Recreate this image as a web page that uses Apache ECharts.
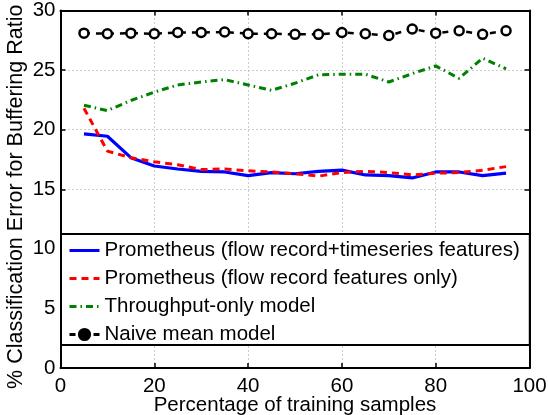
<!DOCTYPE html>
<html>
<head>
<meta charset="utf-8">
<script src="https://cdn.jsdelivr.net/npm/echarts@6/dist/echarts.min.js"></script>
<style>
html,body{margin:0;padding:0;background:#fff;}
#chart{width:548px;height:415px;}
</style>
</head>
<body>
<div id="chart"></div>
<script>
const trainingPct = [5,10,15,20,25,30,35,40,45,50,55,60,65,70,75,80,85,90,95];
const prometheusFull = [19.65,19.45,17.65,16.95,16.7,16.5,16.45,16.15,16.4,16.3,16.5,16.6,16.2,16.15,15.95,16.45,16.45,16.15,16.35];
const prometheusFlow = [21.8,18.2,17.65,17.3,17.05,16.65,16.7,16.55,16.45,16.3,16.1,16.4,16.5,16.4,16.2,16.35,16.4,16.6,16.9];
const throughputOnly = [22.05,21.6,22.45,23.15,23.75,24.0,24.2,23.75,23.3,23.9,24.6,24.65,24.65,24.0,24.7,25.35,24.3,26.0,25.1];
const naiveMean = [28.1,28.05,28.1,28.05,28.15,28.15,28.2,28.05,28.05,28.0,28.0,28.15,28.05,27.9,28.45,28.1,28.3,28.0,28.3];
const seriesNames = [
  'Prometheus (flow record+timeseries features)',
  'Prometheus (flow record features only)',
  'Throughput-only model',
  'Naive mean model'
];
const xTitle = 'Percentage of training samples';
const yTitle = '% Classification Error for Buffering Ratio';

const FONT = "'Liberation Sans', Arial, Helvetica, sans-serif";
const pairs = arr => trainingPct.map((x, i) => [x, arr[i]]);

const chart = echarts.init(document.getElementById('chart'), null, {renderer: 'canvas'});

const baseX = {
  type: 'value', min: 0, max: 100, interval: 20,
  axisLine: {show: true, onZero: false, lineStyle: {color: '#000', width: 2}},
  axisTick: {show: true, inside: true, length: 5, lineStyle: {color: '#000', width: 1.5}},
  splitLine: {show: false}
};
const baseY = {
  type: 'value', min: 0, max: 30, interval: 5,
  axisLine: {show: true, onZero: false, lineStyle: {color: '#000', width: 2}},
  axisTick: {show: true, inside: true, length: 5, lineStyle: {color: '#000', width: 1.5}},
  splitLine: {show: false}
};
const hiddenSymbol = {opacity: 0, color: 'transparent', borderWidth: 0};

chart.setOption({
  animation: false,
  backgroundColor: '#fff',
  grid: {left: 60.5, right: 18.5, top: 10.5, bottom: 47, containLabel: false, outerBoundsMode: 'none'},
  xAxis: [
    Object.assign({}, baseX, {
      position: 'bottom',
      name: xTitle, nameLocation: 'middle', nameGap: 27, nameMoveOverlap: false,
      nameTextStyle: {fontFamily: FONT, fontSize: 20.5, color: '#000'},
      axisLabel: {fontFamily: FONT, fontSize: 20.5, color: '#000', margin: 8},
      splitLine: {show: true, lineStyle: {color: '#999', width: 1, type: [1, 3]}}
    }),
    Object.assign({}, baseX, {position: 'top', axisLabel: {show: false}})
  ],
  yAxis: [
    Object.assign({}, baseY, {
      position: 'left',
      name: yTitle, nameLocation: 'middle', nameGap: 33, nameRotate: 90, nameMoveOverlap: false,
      nameTextStyle: {fontFamily: FONT, fontSize: 21.5, color: '#000', padding: [0, 15, 0, 0]},
      axisLabel: {fontFamily: FONT, fontSize: 20.5, color: '#000', margin: 5},
      splitLine: {show: true, lineStyle: {color: '#999', width: 1, type: [1, 3]}}
    }),
    Object.assign({}, baseY, {position: 'right', axisLabel: {show: false}})
  ],
  legend: {
    orient: 'vertical',
    left: 61, top: 234,
    padding: [6, 10, 0, 7],
    itemWidth: 30, itemHeight: 14, itemGap: 7,
    backgroundColor: '#fff',
    borderColor: '#000', borderWidth: 2,
    lineStyle: {width: 3},
    textStyle: {fontFamily: FONT, fontSize: 20.5, color: '#000', lineHeight: 20},
    data: [
      {name: seriesNames[0], itemStyle: hiddenSymbol},
      {name: seriesNames[1], itemStyle: hiddenSymbol},
      {name: seriesNames[2], itemStyle: hiddenSymbol},
      {name: seriesNames[3], itemStyle: {color: '#000', borderColor: '#000'}}
    ]
  },
  series: [
    {
      name: seriesNames[0], type: 'line', data: pairs(prometheusFull),
      symbol: 'none', color: '#0000ff',
      lineStyle: {color: '#0000ff', width: 3.2, type: 'solid'}, z: 4
    },
    {
      name: seriesNames[1], type: 'line', data: pairs(prometheusFlow),
      symbol: 'none', color: '#ff0000',
      lineStyle: {color: '#ff0000', width: 3, type: [7, 5]}, z: 5
    },
    {
      name: seriesNames[2], type: 'line', data: pairs(throughputOnly),
      symbol: 'none', color: '#008000',
      lineStyle: {color: '#008000', width: 3, type: [7, 4, 1.5, 4]}, z: 3
    },
    {
      name: seriesNames[3], type: 'line', data: pairs(naiveMean),
      symbol: 'circle', symbolSize: 9, color: '#000',
      itemStyle: {color: '#fff', borderColor: '#000', borderWidth: 2.5},
      lineStyle: {color: '#000', width: 2.5, type: [6, 6]}, z: 6
    }
  ]
});
</script>
</body>
</html>
